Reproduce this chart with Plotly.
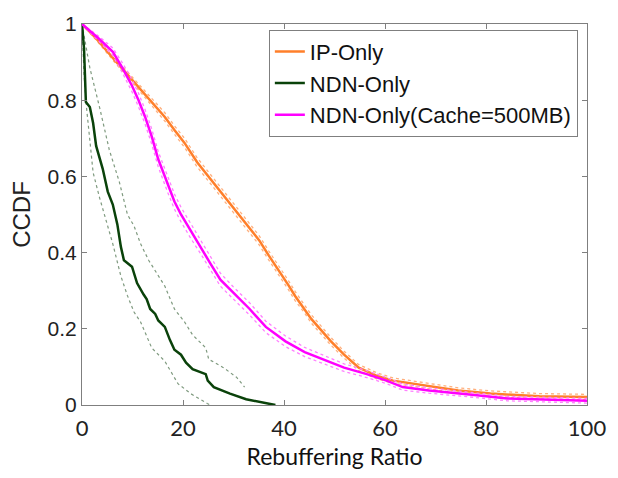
import plotly.graph_objects as go

# ---------------- data ----------------
ip_x = [0, 2.8, 6.7, 9.9, 11.9, 14.5, 16.4, 18.3, 20.3, 22.8, 25.4, 28.0, 30.6, 33.2, 35.1,
        37.0, 39.6, 40.9, 42.2, 44.1, 45.4, 49.3, 51.9, 54.8, 58.3, 61.6, 68.0, 74.5, 80.9, 90.6, 100]
ip_y = [1, 0.962, 0.902, 0.853, 0.825, 0.785, 0.756, 0.722, 0.688, 0.637, 0.594, 0.551, 0.508, 0.466, 0.432,
        0.392, 0.342, 0.314, 0.286, 0.252, 0.226, 0.167, 0.132, 0.098, 0.077, 0.064, 0.051, 0.038, 0.030, 0.023, 0.021]
ip_ci = [0, 0.004, 0.006, 0.008, 0.009, 0.010, 0.011, 0.011, 0.012, 0.012, 0.012, 0.012, 0.012, 0.012, 0.012,
         0.012, 0.012, 0.012, 0.012, 0.011, 0.011, 0.010, 0.009, 0.008, 0.008, 0.007, 0.007, 0.007, 0.007, 0.007, 0.007]

ndn_x = [0, 0.4, 0.77, 1.55, 2.2, 2.8, 4.1, 5.1, 6.1, 7.0, 7.7, 8.3, 9.9, 10.9, 12.2, 12.8, 13.5, 14.5,
         15.1, 16.4, 17.4, 18.3, 19.6, 20.6, 21.9, 24.5, 24.9, 26.1, 29.3, 32.5, 38.3]
ndn_y = [1, 0.936, 0.795, 0.782, 0.74, 0.68, 0.62, 0.56, 0.526, 0.474, 0.415, 0.38, 0.363, 0.32, 0.29, 0.278,
         0.252, 0.239, 0.222, 0.205, 0.171, 0.145, 0.132, 0.111, 0.094, 0.081, 0.064, 0.047, 0.030, 0.015, 0.0]

ndn_hi_x = [0, 1.55, 3.5, 5.4, 7.4, 9.0, 10.3, 11.6, 13.2, 15.1, 16.4, 18.3, 20.3, 21.9, 24.5, 25.1, 28.0, 30.6, 32.2]
ndn_hi_y = [1, 0.885, 0.78, 0.67, 0.585, 0.5, 0.47, 0.423, 0.38, 0.338, 0.312, 0.252, 0.218, 0.184, 0.15, 0.12,
            0.098, 0.073, 0.047]
ndn_lo_x = [0, 0.4, 0.9, 1.55, 2.2, 3.5, 4.8, 6.1, 7.7, 9.0, 10.3, 11.6, 13.8, 16.4, 19.0, 21.5, 24.8, 25.4]
ndn_lo_y = [1, 0.868, 0.78, 0.70, 0.61, 0.543, 0.483, 0.423, 0.338, 0.287, 0.244, 0.218, 0.15, 0.115, 0.056,
            0.03, 0.004, 0.0]

mc_x = [0, 3.3, 6.1, 8.0, 9.9, 11.2, 12.5, 13.8, 15.1, 17.0, 18.3, 19.6, 21.5, 23.5, 25.4, 27.4, 29.9, 33.2,
        36.4, 40.3, 44.1, 48.7, 51.9, 56.4, 60.3, 63.5, 68.7, 77.7, 84.2, 100]
mc_y = [1, 0.962, 0.927, 0.885, 0.838, 0.8, 0.756, 0.705, 0.645, 0.577, 0.534, 0.5, 0.457, 0.415, 0.372, 0.329,
        0.295, 0.252, 0.205, 0.167, 0.139, 0.115, 0.098, 0.081, 0.064, 0.047, 0.038, 0.026, 0.017, 0.011]
mc_ci = [0, 0.006, 0.010, 0.013, 0.016, 0.018, 0.019, 0.020, 0.020, 0.020, 0.020, 0.019, 0.019, 0.018, 0.018,
         0.017, 0.016, 0.016, 0.015, 0.014, 0.012, 0.011, 0.010, 0.009, 0.008, 0.008, 0.007, 0.006, 0.006, 0.006]

x_ticks = [0, 20, 40, 60, 80, 100]
y_ticks = [0, 0.2, 0.4, 0.6, 0.8, 1]
y_tick_text = ["0", "0.2", "0.4", "0.6", "0.8", "1"]

C_IP = "#FF7F2A"
C_IP_L = "#FFB07E"
C_NDN = "#0A420A"
C_NDN_L = "#7F9A7F"
C_MC = "#FF00FF"
C_MC_L = "#FF80FF"

fig = go.Figure()

def band(xs, ys, ci, color):
    up = [a + b for a, b in zip(ys, ci)]
    lo = [max(a - b, 0) for a, b in zip(ys, ci)]
    for arr in (up, lo):
        fig.add_trace(go.Scatter(x=xs, y=arr, mode="lines", showlegend=False, hoverinfo="skip",
                                 line=dict(color=color, width=1.3, dash="dot")))

band(ip_x, ip_y, ip_ci, C_IP_L)
fig.add_trace(go.Scatter(x=ip_x, y=ip_y, mode="lines", name="IP-Only", legendgroup="a",
                         line=dict(color=C_IP, width=2.5)))

for xs, ys in ((ndn_hi_x, ndn_hi_y), (ndn_lo_x, ndn_lo_y)):
    fig.add_trace(go.Scatter(x=xs, y=ys, mode="lines", showlegend=False, hoverinfo="skip",
                             line=dict(color=C_NDN_L, width=1.2, dash="dot")))
fig.add_trace(go.Scatter(x=ndn_x, y=ndn_y, mode="lines", name="NDN-Only", legendgroup="b",
                         line=dict(color=C_NDN, width=2.5)))

band(mc_x, mc_y, mc_ci, C_MC_L)
fig.add_trace(go.Scatter(x=mc_x, y=mc_y, mode="lines", name="NDN-Only(Cache=500MB)", legendgroup="c",
                         line=dict(color=C_MC, width=2.5)))

axis_common = dict(showline=True, linecolor="#7F7F7F", linewidth=1, mirror="ticks", ticks="inside",
                   ticklen=5, tickcolor="#7F7F7F", showgrid=False, zeroline=False)

fig.update_layout(
    width=618, height=478,
    margin=dict(l=82, r=20, t=15, b=73),
    plot_bgcolor="white", paper_bgcolor="white",
    xaxis=dict(range=[0, 100], tickvals=x_ticks, ticklabelstandoff=4,
               title=dict(text="Rebuffering Ratio", standoff=8,
                          font=dict(family="Lato", size=23, color="#111")),
               tickfont=dict(family="Lato", size=22, color="#222"), **axis_common),
    yaxis=dict(range=[0, 1], tickvals=y_ticks, ticktext=y_tick_text,
               title=dict(text="CCDF", standoff=10, font=dict(family="Liberation Sans", size=24, color="#222")),
               tickfont=dict(family="Liberation Sans", size=21, color="#222"), **axis_common),
    legend=dict(x=0.37, y=0.985, xanchor="left", yanchor="top", bordercolor="#7F7F7F", borderwidth=1,
                bgcolor="white", font=dict(family="Liberation Sans", size=22, color="#111"),
                tracegroupgap=0, traceorder="normal"),
    showlegend=True,
)

fig.write_html("out.html")
